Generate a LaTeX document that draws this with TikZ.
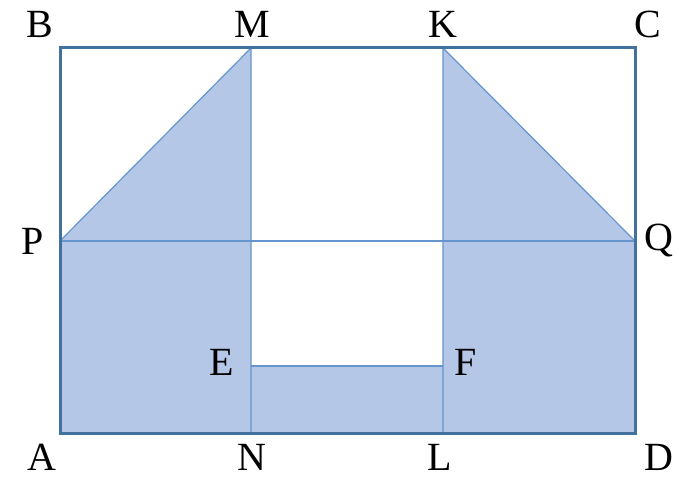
\documentclass[tikz,border=0pt]{standalone}
\usepackage{fontspec}
\setmainfont{Liberation Serif}
\definecolor{fillblue}{RGB}{180,199,231}
\definecolor{edgeblue}{RGB}{65,113,156}
\definecolor{thinblue}{RGB}{100,150,205}
\begin{document}
\begin{tikzpicture}[x=1pt,y=-1pt,
  lbl/.style={font=\fontsize{40}{42}\selectfont,inner sep=0pt,anchor=center},
  thin line/.style={draw=thinblue,line width=1.2pt},
  outer/.style={draw=edgeblue,line width=3pt}]
\useasboundingbox (0,0) rectangle (675,478);
\coordinate (A) at (60,433);
\coordinate (B) at (60,48);
\coordinate (C) at (635,48);
\coordinate (D) at (635,433);
\coordinate (M) at (251,48);
\coordinate (K) at (443,48);
\coordinate (P) at (60,241);
\coordinate (Q) at (635,241);
\coordinate (E) at (251,366);
\coordinate (F) at (443,366);
\coordinate (N) at (251,433);
\coordinate (L) at (443,433);
\fill[fillblue] (A) -- (P) -- (M) -- (E) -- (F) -- (K) -- (Q) -- (D) -- cycle;
\draw[thin line] (P) -- (M) -- (N);
\draw[thin line] (Q) -- (K) -- (L);
\draw[thin line] (P) -- (Q);
\draw[thin line] (E) -- (F);
\draw[outer] (A) rectangle (C);
\node[lbl] (lB) at (40,24) {B};
\node[lbl] (lM) at (252,24) {M};
\node[lbl] (lK) at (443,24) {K};
\node[lbl] (lC) at (648,24) {C};
\node[lbl] (lP) at (33,241) {P};
\node[lbl] (lQ) at (659,241) {Q};
\node[lbl] (lE) at (222,362) {E};
\node[lbl] (lF) at (466,362) {F};
\node[lbl] (lA) at (42,457) {A};
\node[lbl] (lN) at (252,457) {N};
\node[lbl] (lL) at (440,457) {L};
\node[lbl] (lD) at (659,457) {D};
\end{tikzpicture}
\end{document}
